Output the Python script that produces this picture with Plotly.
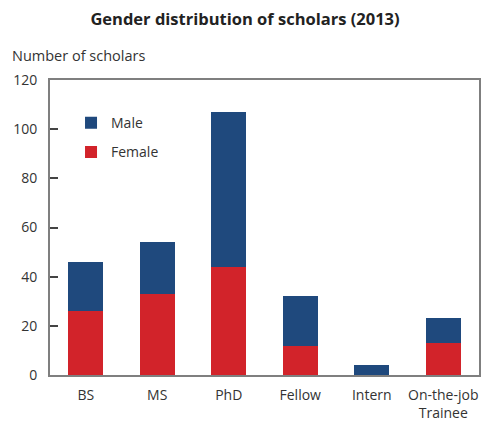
import plotly.graph_objects as go

categories = ["BS", "MS", "PhD", "Fellow", "Intern", "On-the-job<br>Trainee"]
female = [26, 33, 44, 12, 0, 13]
male = [20, 21, 63, 20, 4, 10]
y_ticks = [0, 20, 40, 60, 80, 100, 120]

BLUE = "#1f497d"
RED = "#d2232a"
FONT = "Open Sans"
TXT = "#333333"
AX = "#7f7f7f"

# page body has an 8px margin, so the figure is sized to fit the 490x421 window
W, H = 482, 413
ML, MT, MR, MB = 42, 72, 11, 46
PW, PH = W - ML - MR, H - MT - MB

fig = go.Figure()
fig.add_trace(go.Bar(x=categories, y=female, name="Female", marker_color=RED,
                     marker_line_width=0, legendgroup="f", legendrank=2))
fig.add_trace(go.Bar(x=categories, y=male, name="Male", marker_color=BLUE,
                     marker_line_width=0, legendgroup="m", legendrank=1))

fig.update_layout(
    width=W, height=H,
    barmode="stack", bargap=0.51,
    margin=dict(l=ML, r=MR, t=MT, b=MB, pad=0),
    paper_bgcolor="white", plot_bgcolor="white",
    font=dict(family=FONT, size=14, color=TXT),
    title=dict(text="<b>Gender distribution of scholars (2013)</b>",
               x=(245 - 8) / W, xanchor="center", y=1, yanchor="top",
               pad=dict(t=5),
               font=dict(size=16.5, color="#222222", family=FONT)),
    legend=dict(x=0.049, y=0.908, xanchor="left", yanchor="top",
                traceorder="grouped", tracegroupgap=8,
                bgcolor="rgba(0,0,0,0)", font=dict(size=14, color=TXT)),
    xaxis=dict(showline=True, linecolor=AX, linewidth=2, mirror=True,
               ticks="", showgrid=False, automargin=False, ticklabelstandoff=6,
               tickfont=dict(size=14, color=TXT)),
    yaxis=dict(range=[0, 120], tickvals=y_ticks, showline=True, linecolor=AX,
               linewidth=2, mirror=True, ticks="inside", ticklen=8,
               tickcolor="#444444", tickwidth=1.5, showgrid=False, zeroline=False,
               automargin=False, ticklabelstandoff=8,
               tickfont=dict(size=14, color=TXT)),
    annotations=[dict(text="Number of scholars", xref="paper", yref="paper",
                      x=-(ML - 2) / PW, y=1 + 25 / PH, xanchor="left", yanchor="middle",
                      showarrow=False, font=dict(size=14.5, color=TXT))],
)

fig.write_html("out.html")
